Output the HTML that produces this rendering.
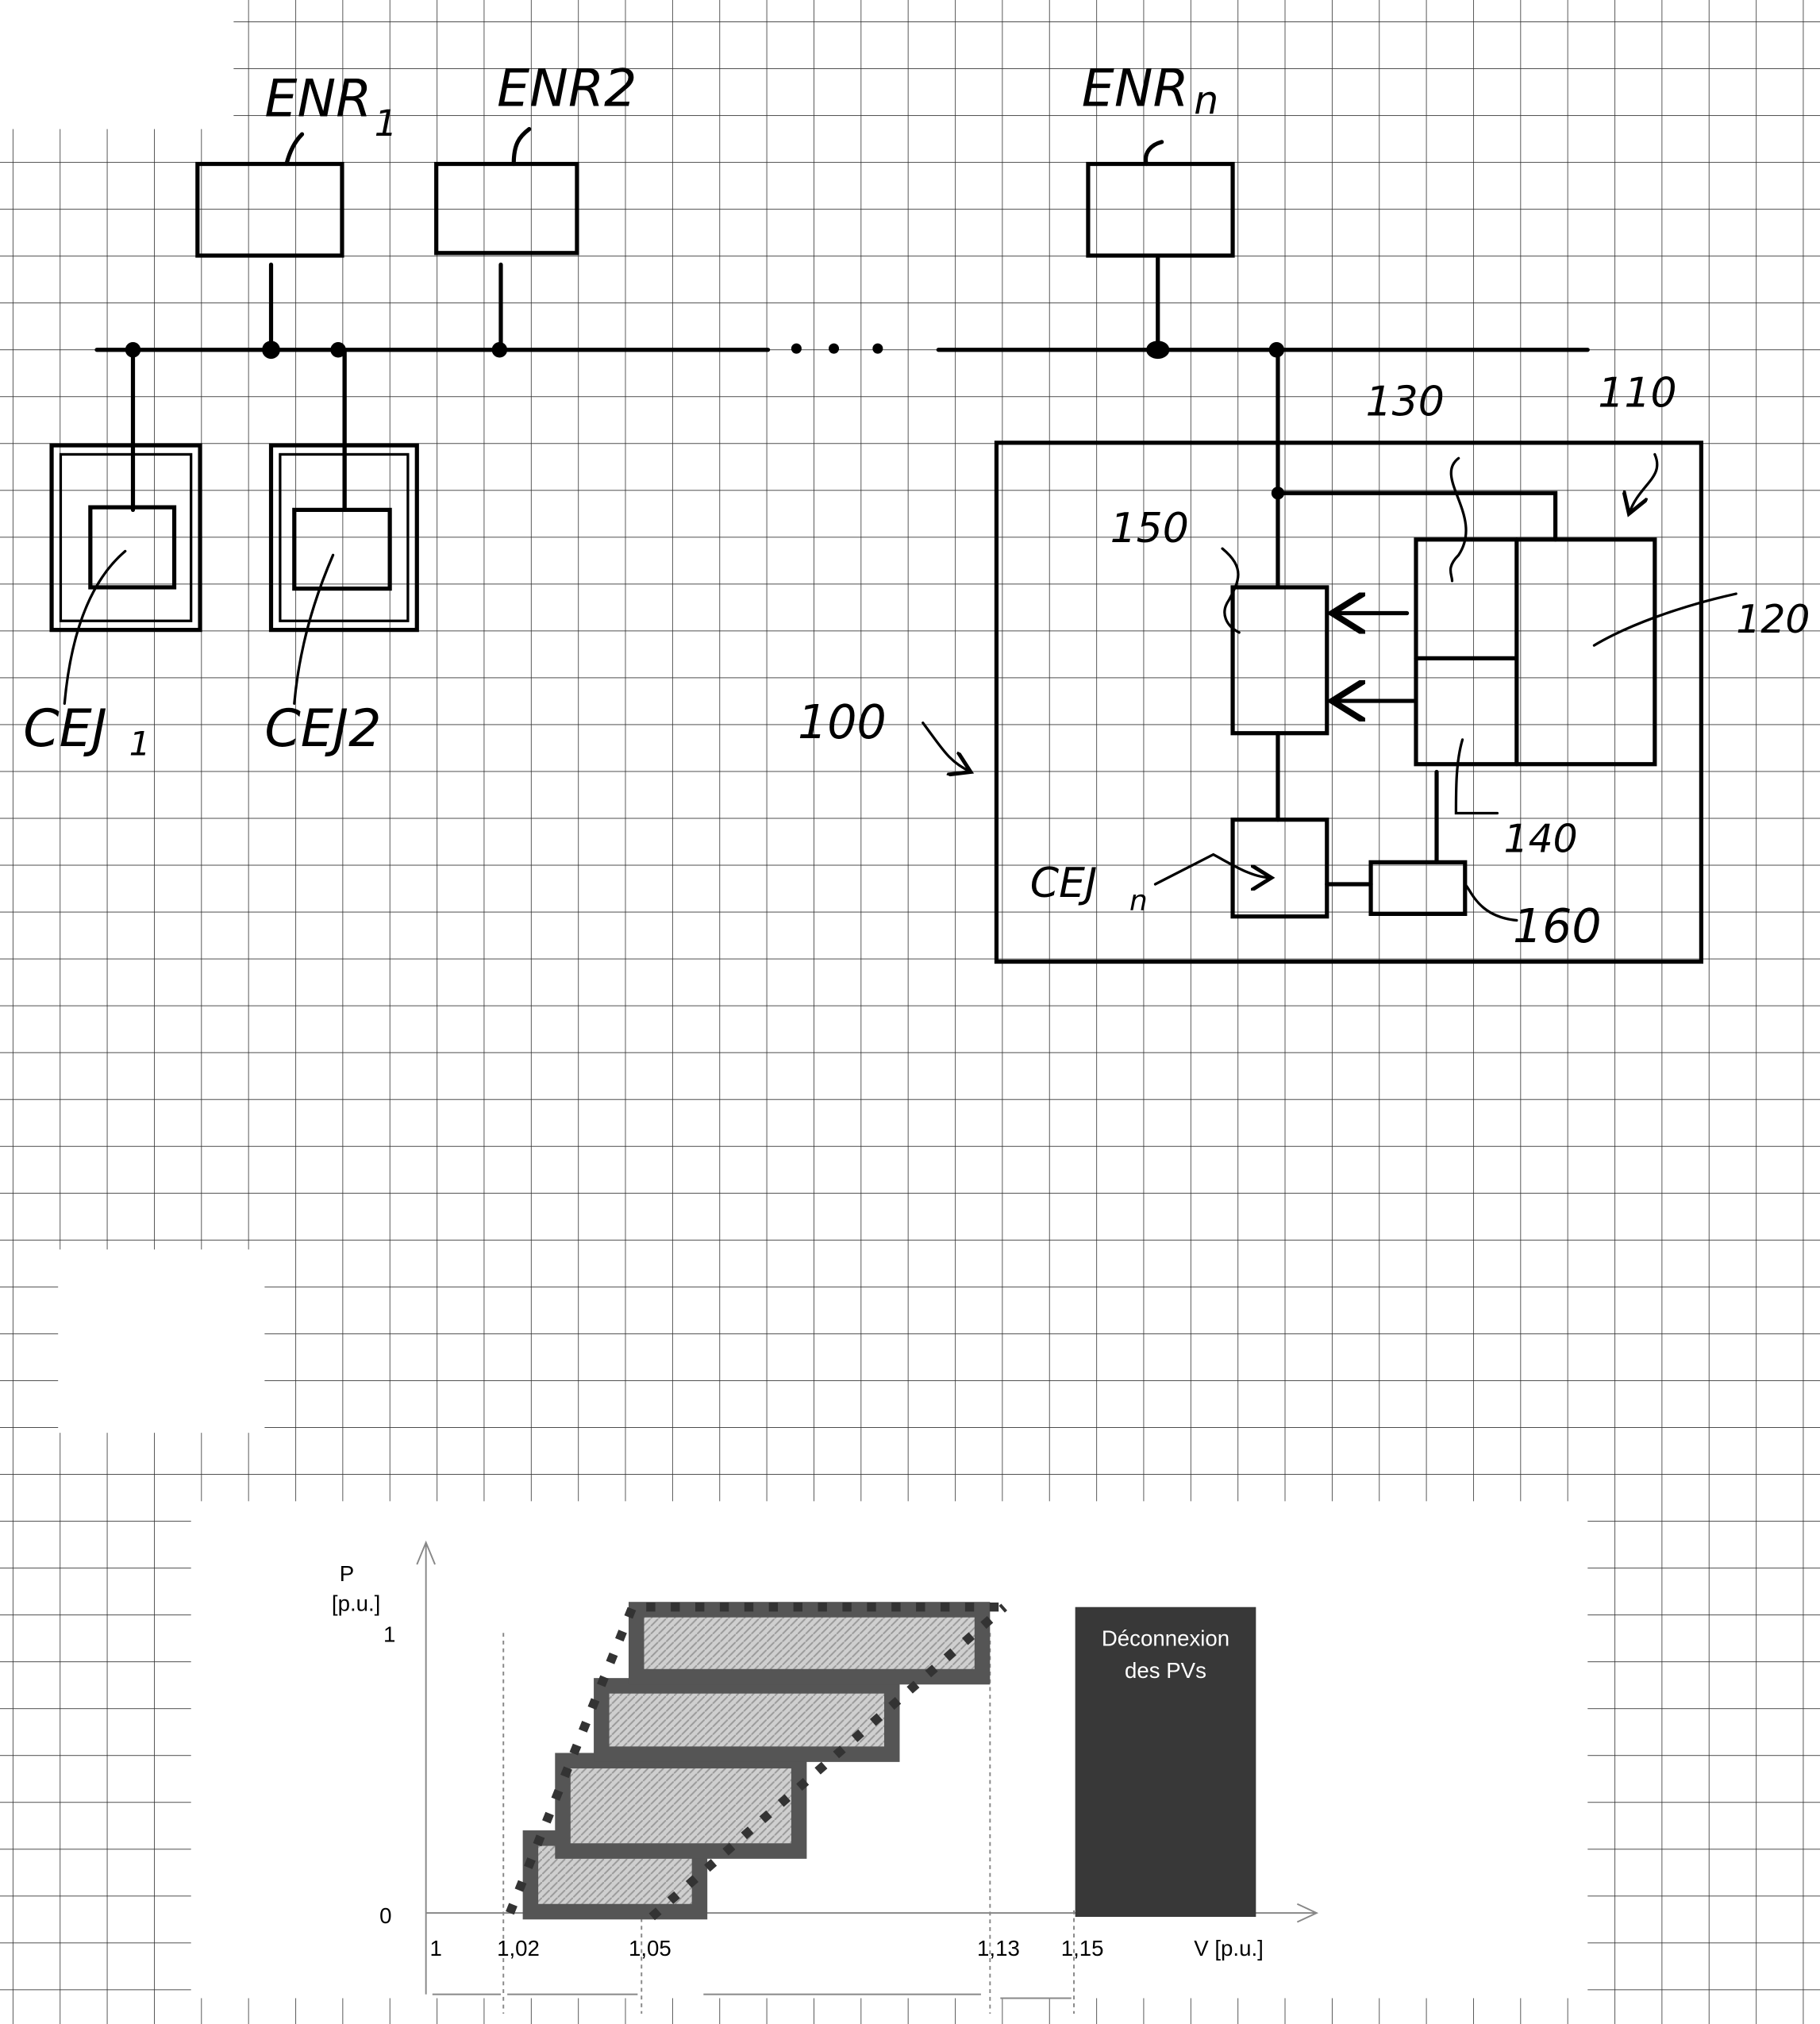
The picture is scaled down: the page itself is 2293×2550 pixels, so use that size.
<!DOCTYPE html>
<html><head><meta charset="utf-8"><style>
html,body{margin:0;padding:0;background:#fff}
svg{display:block}
.h{font-family:"DejaVu Sans","Liberation Sans",sans-serif;font-style:italic;fill:#000}
.c{font-family:"Liberation Sans",sans-serif;fill:#000}
</style></head><body>
<svg width="2293" height="2550" viewBox="0 0 1410 1568" preserveAspectRatio="none" xmlns="http://www.w3.org/2000/svg">
<defs>
<pattern id="g" patternUnits="userSpaceOnUse" x="9.8" y="16.6" width="36.5" height="36.3">
<line x1="0" y1="0" x2="0" y2="36.3" stroke="#333" stroke-width="1"/>
<line x1="0" y1="0" x2="36.5" y2="0" stroke="#333" stroke-width="1"/>
</pattern>
<pattern id="hatch" patternUnits="userSpaceOnUse" width="6" height="6">
<rect width="6" height="6" fill="#cfcfcf"/><path d="M0 6L6 0" stroke="#999" stroke-width="1.2"/>
</pattern>
<marker id="ar" markerWidth="10" markerHeight="10" refX="8" refY="5" orient="auto"><path d="M0 0L8 5L0 10" fill="none" stroke="#000" stroke-width="1.5"/></marker>
</defs>
<rect width="1410" height="1568" fill="#fff"/>
<rect width="1410" height="1568" fill="url(#g)"/>
<rect x="0" y="0" width="181" height="100" fill="#fff"/>
<rect x="45" y="968" width="160" height="142" fill="#fff"/>
<rect x="148" y="1163" width="1082" height="385" fill="#fff"/>

<g fill="none" stroke="#000" stroke-width="3.2" stroke-linecap="round">
<rect x="153" y="127" width="112" height="71"/>
<rect x="338" y="127" width="109" height="69"/>
<rect x="843" y="127" width="112" height="71"/>
<path d="M210 205V271M388 205V271M897 200V271"/>
<path d="M222 127C225 115 230 108 234 104M398 127C398 112 402 106 410 100M888 127C886 118 892 112 900 110"/>
<path d="M75 271H595M727 271H1230"/>
<path d="M103 271V395"/>
<rect x="40" y="345" width="115" height="143"/>
<rect x="47" y="352" width="101" height="129" stroke-width="2"/>
<rect x="70" y="393" width="65" height="62"/>
<path d="M97 427C70 450 55 490 50 545" stroke-width="2"/>
<path d="M267 271V395"/>
<rect x="210" y="345" width="113" height="143"/>
<rect x="217" y="352" width="99" height="129" stroke-width="2"/>
<rect x="228" y="395" width="74" height="61"/>
<path d="M258 430C245 460 232 500 228 545" stroke-width="2"/>
<rect x="772" y="343" width="546" height="402"/>
<path d="M990 271V455"/>
<path d="M990 382H1205V418"/>
<rect x="1097" y="418" width="185" height="174"/>
<path d="M1175 418V592M1097 510H1175"/>
<rect x="955" y="455" width="73" height="113"/>
<path d="M1090 475H1032" marker-end="url(#ar)"/>
<path d="M1095 543H1032" marker-end="url(#ar)"/>
<path d="M990 568V635"/>
<rect x="955" y="635" width="73" height="75"/>
<path d="M1028 685H1062"/>
<rect x="1062" y="668" width="73" height="40"/>
<path d="M1113 598V668"/>
<path d="M1130 355C1110 370 1150 400 1130 430C1120 440 1125 445 1125 450" stroke-width="2"/>
<path d="M1282 352C1290 370 1270 375 1262 398" stroke-width="2" marker-end="url(#ar)"/>
<path d="M1345 460C1300 470 1260 485 1235 500" stroke-width="2"/>
<path d="M947 425C965 440 960 450 952 465C945 475 950 485 960 490" stroke-width="2"/>
<path d="M1133 573C1128 590 1128 610 1128 630H1160" stroke-width="2"/>
<path d="M1135 685C1140 690 1145 710 1175 713" stroke-width="2"/>
<path d="M895 685L940 662C955 670 970 680 985 680" stroke-width="2" marker-end="url(#ar)"/>
<path d="M715 560C730 580 735 590 752 598" stroke-width="2" marker-end="url(#ar)"/>
</g>
<g fill="#000">
<circle cx="103" cy="271" r="6"/><circle cx="210" cy="271" r="7"/><circle cx="262" cy="271" r="6"/>
<circle cx="387" cy="271" r="6"/><ellipse cx="897" cy="271" rx="9" ry="7"/><circle cx="989" cy="271" r="6"/>
<circle cx="990" cy="382" r="5"/><circle cx="617" cy="270" r="4"/><circle cx="646" cy="270" r="4"/><circle cx="680" cy="270" r="4"/>
</g>
<g class="h" font-size="40">
<text x="205" y="90">ENR</text><text x="290" y="105" font-size="28">1</text>
<text x="385" y="82">ENR2</text>
<text x="838" y="82">ENR</text><text x="925" y="88" font-size="30">n</text>
<text x="18" y="578">CEJ</text><text x="100" y="585" font-size="26">1</text>
<text x="205" y="578">CEJ2</text>
<text x="618" y="572" font-size="36">100</text>
<text x="1058" y="322" font-size="32">130</text>
<text x="1238" y="315" font-size="32">110</text>
<text x="860" y="420" font-size="32">150</text>
<text x="1345" y="490" font-size="30">120</text>
<text x="1165" y="660" font-size="30">140</text>
<text x="1172" y="730" font-size="36">160</text>
<text x="798" y="695" font-size="32">CEJ</text><text x="875" y="705" font-size="22">n</text>
</g>

<g stroke="#888" stroke-width="1.2" fill="none">
<path d="M330 1545V1195M323 1212L330 1195L337 1212"/>
<path d="M330 1482H1020M1005 1475L1020 1482L1005 1489"/>
<path d="M390 1265V1560M497 1480V1560M767 1265V1560M832 1480V1560" stroke-dasharray="3 3"/>
<path d="M335 1545H388M393 1545H494M545 1545H760M775 1548H830"/>
</g>
<g>
<rect x="411" y="1424" width="131" height="57" fill="url(#hatch)" stroke="#555" stroke-width="12"/>
<rect x="436" y="1364" width="183" height="70" fill="url(#hatch)" stroke="#555" stroke-width="12"/>
<rect x="466" y="1306" width="225" height="53" fill="url(#hatch)" stroke="#555" stroke-width="12"/>
<rect x="493" y="1247" width="268" height="52" fill="url(#hatch)" stroke="#555" stroke-width="12"/>
<path d="M395 1482L490 1245H775M505 1485L778 1245" fill="none" stroke="#333" stroke-width="7" stroke-dasharray="7 12"/>
<rect x="833" y="1245" width="140" height="240" fill="#383838"/>
<text x="903" y="1275" text-anchor="middle" class="c" font-size="17" style="fill:#fff">Déconnexion</text>
<text x="903" y="1300" text-anchor="middle" class="c" font-size="17" style="fill:#fff">des PVs</text>
</g>
<g class="c" font-size="17">
<text x="263" y="1225">P</text><text x="257" y="1248">[p.u.]</text>
<text x="297" y="1272">1</text><text x="294" y="1490">0</text>
<text x="333" y="1515">1</text><text x="385" y="1515">1,02</text><text x="487" y="1515">1,05</text>
<text x="757" y="1515">1,13</text><text x="822" y="1515">1,15</text><text x="925" y="1515">V [p.u.]</text>
</g>
</svg>
</body></html>
